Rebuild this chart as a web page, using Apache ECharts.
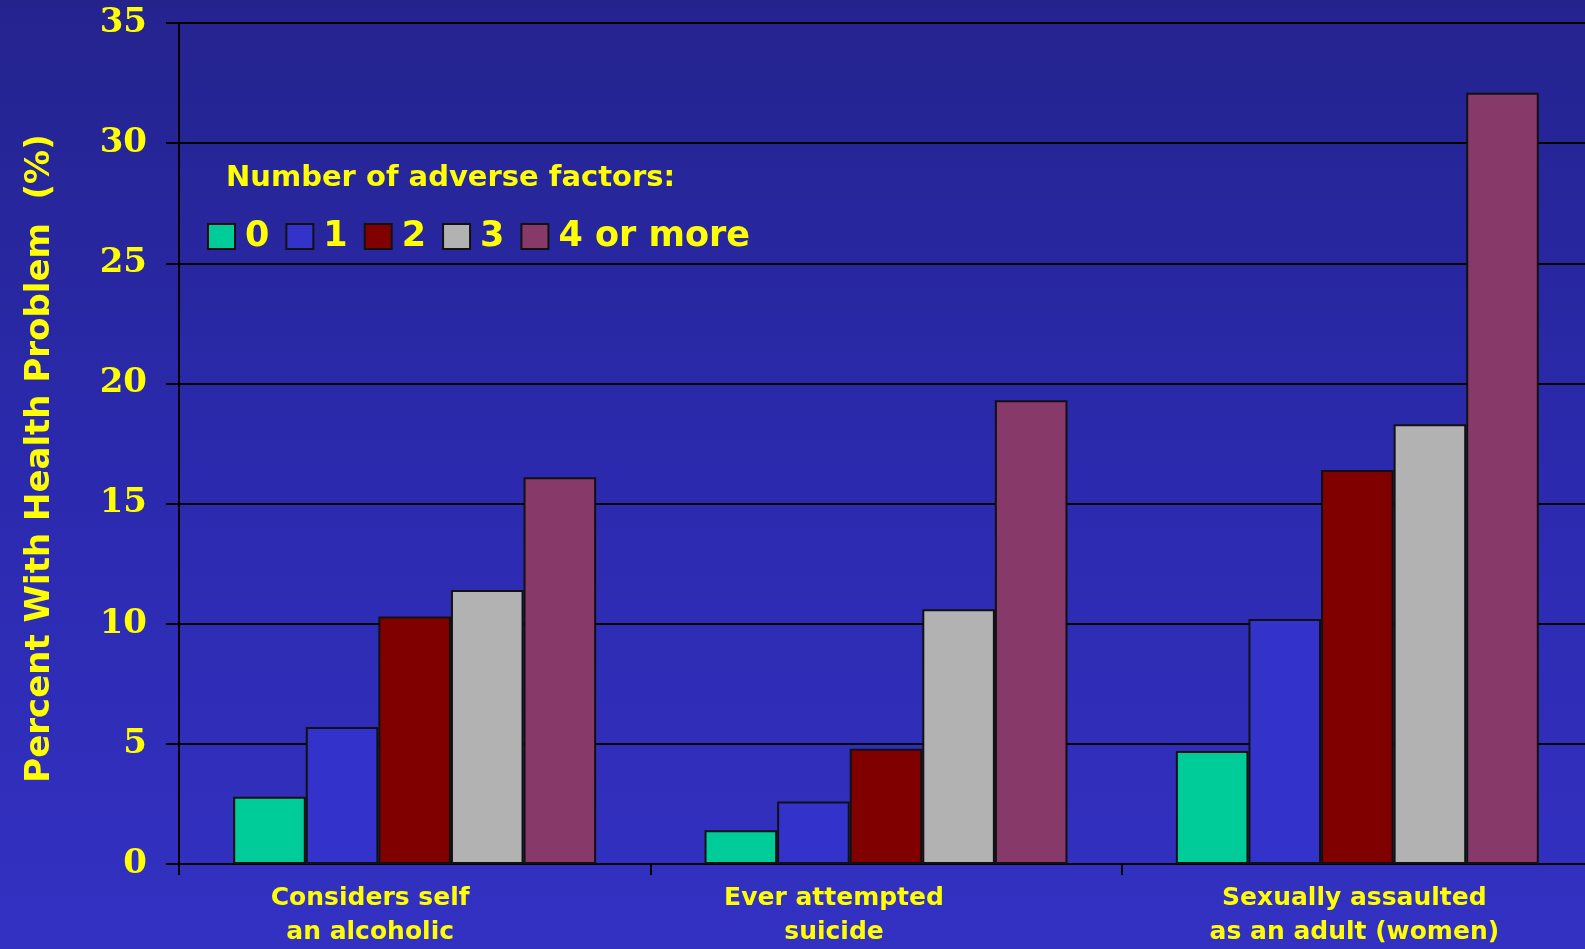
<!DOCTYPE html>
<html>
<head>
<meta charset="utf-8">
<title>Adverse factors and health problems</title>
<script src="https://cdn.jsdelivr.net/npm/echarts@6/dist/echarts.min.js"></script>
<style>
  html, body { margin: 0; padding: 0; width: 100%; height: 100%; overflow: hidden; }
  #chart { width: 1585px; height: 949px; }
</style>
</head>
<body>
<div id="chart"></div>
<script>
// Outcome categories (two-line labels)
var categories = [
  'Considers self\nan alcoholic',
  'Ever attempted\nsuicide',
  'Sexually assaulted\nas an adult (women)'
];

// Legend entries: number of adverse factors
var factorNames = ['0', '1', '2', '3', '4 or more'];

// Percent with each health problem, per number of adverse factors
var factors0 = [2.8, 1.4, 4.7];
var factors1 = [5.7, 2.6, 10.2];
var factors2 = [10.3, 4.8, 16.4];
var factors3 = [11.4, 10.6, 18.3];
var factors4plus = [16.1, 19.3, 32.1];

// Y axis range
var yMin = 0;
var yMax = 35;
var yStep = 5;

var seriesValues = [factors0, factors1, factors2, factors3, factors4plus];
var barColors = ['#00CC99', '#3333CC', '#800000', '#B2B2B2', '#873A6A'];

var yellow = '#FFFF00';
var sans = '"DejaVu Sans", sans-serif';
var serif = '"DejaVu Serif", serif';

var chart = echarts.init(document.getElementById('chart'), null, { renderer: 'canvas' });

var series = seriesValues.map(function (vals, i) {
  return {
    name: factorNames[i],
    type: 'bar',
    data: vals,
    barGap: '0%',
    barCategoryGap: '23%',
    itemStyle: {
      color: barColors[i],
      borderColor: '#111111',
      borderWidth: 2
    },
    emphasis: { disabled: true }
  };
});

// Per-category label shift (rich padding pushes each label left of its slot centre)
var labelStyles = ['c0', 'c1', 'c2'];

function richLine(padRight) {
  return {
    color: yellow, fontFamily: sans, fontWeight: 'bold',
    fontSize: 25, lineHeight: 34, padding: [0, padRight, 0, 0]
  };
}

var option = {
  animation: false,
  backgroundColor: {
    type: 'linear', x: 0, y: 0, x2: 0, y2: 1,
    colorStops: [
      { offset: 0, color: '#24238E' },
      { offset: 0.5, color: '#2B2AAE' },
      { offset: 1, color: '#3331C2' }
    ]
  },
  title: {
    text: 'Number of adverse factors:',
    left: 226,
    top: 164,
    padding: 0,
    textStyle: {
      color: yellow,
      fontFamily: sans,
      fontWeight: 'bold',
      fontSize: 29
    }
  },
  legend: {
    data: factorNames,
    left: 207,
    top: 219,
    padding: 0,
    orient: 'horizontal',
    icon: 'rect',
    itemWidth: 27,
    itemHeight: 25,
    itemGap: 16,
    itemStyle: { borderColor: '#111111', borderWidth: 2 },
    textStyle: {
      color: yellow,
      fontFamily: sans,
      fontWeight: 'bold',
      fontSize: 35,
      padding: [0, 0, 0, 5]
    },
    selectedMode: false
  },
  grid: {
    left: 179,
    right: -8,
    top: 23,
    bottom: 85,
    containLabel: false,
    outerBoundsMode: 'none'
  },
  xAxis: {
    type: 'category',
    data: categories,
    boundaryGap: true,
    axisLine: { show: true, lineStyle: { color: '#000000', width: 2 } },
    axisTick: { show: true, length: 11, inside: false, lineStyle: { color: '#000000', width: 2 } },
    axisLabel: {
      interval: 0,
      margin: 17,
      color: yellow,
      fontFamily: sans,
      fontWeight: 'bold',
      fontSize: 25,
      lineHeight: 34,
      formatter: function (value, idx) {
        var s = labelStyles[idx];
        return value.split('\n').map(function (line) {
          return '{' + s + '|' + line + '}';
        }).join('\n');
      },
      rich: {
        c0: richLine(89),
        c1: richLine(104),
        c2: richLine(6)
      }
    },
    splitLine: { show: false }
  },
  yAxis: {
    type: 'value',
    min: yMin,
    max: yMax,
    interval: yStep,
    name: 'Percent With Health Problem  (%)',
    nameLocation: 'middle',
    nameGap: 122,
    nameRotate: 90,
    nameTextStyle: {
      color: yellow,
      fontFamily: sans,
      fontWeight: 'bold',
      fontSize: 34,
      padding: [0, 30, 0, 0]
    },
    axisLine: { show: true, lineStyle: { color: '#000000', width: 2 } },
    axisTick: { show: true, length: 13, inside: false, lineStyle: { color: '#000000', width: 2 } },
    axisLabel: {
      margin: 32,
      color: yellow,
      fontFamily: serif,
      fontWeight: 'bold',
      fontSize: 34
    },
    splitLine: { show: true, lineStyle: { color: '#000000', width: 2 } }
  },
  series: series
};

chart.setOption(option);
</script>
</body>
</html>
